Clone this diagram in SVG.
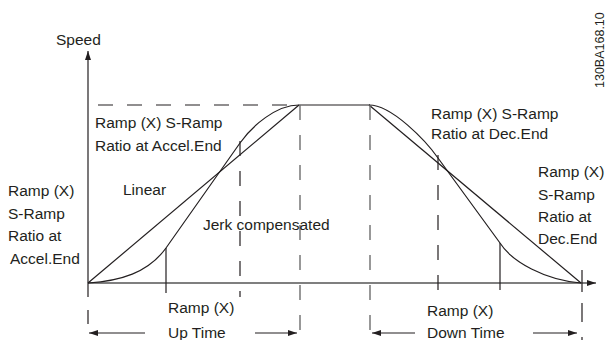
<svg xmlns="http://www.w3.org/2000/svg" width="606" height="340" viewBox="0 0 606 340">
<defs>
<style>
text{font-family:"Liberation Sans",Arial,sans-serif;font-size:15.5px;fill:#231f20}
.ln{stroke:#231f20;stroke-width:1.2;fill:none}
.ax{stroke:#555;stroke-width:1.4;fill:none}
.dk{stroke:#231f20;stroke-width:1.2;fill:none;stroke-dasharray:15 15}
.dg{stroke:#6d6d6d;stroke-width:1.4;fill:none;stroke-dasharray:15 15}
.ah{fill:#231f20}
</style>
<marker id="arr" markerWidth="9" markerHeight="6" refX="9" refY="3" orient="auto" markerUnits="userSpaceOnUse">
<path d="M0,0 L9,3 L0,6 Z" class="ah"/>
</marker>
</defs>
<rect width="606" height="340" fill="#fff"/>
<g id="connectors">
<line class="ln" x1="88" y1="283" x2="88" y2="51" marker-end="url(#arr)"/>
<line class="ax" x1="88" y1="283" x2="596" y2="283" marker-end="url(#arr)"/>
<line class="dk" x1="98" y1="105" x2="299" y2="105" style="stroke-dasharray:15 14"/>
<line class="ln" x1="299" y1="105" x2="370" y2="105"/>
<line class="ln" x1="88" y1="283" x2="299" y2="105"/>
<path class="ln" d="M88,283 C120,281 148,273 166,248 L240,143 C252,126 276,105 299,105"/>
<line class="ln" x1="369" y1="105" x2="581" y2="283"/>
<path class="ln" d="M369,105 C392,105 426,141 438,158 L500,243 C512,262 545,280 581,283"/>
<line class="dg" x1="300" y1="105" x2="300" y2="334"/>
<line class="dg" x1="370" y1="105" x2="370" y2="334"/>
<line class="dk" x1="240" y1="141" x2="240" y2="297"/>
<line class="dk" x1="438" y1="155" x2="438" y2="294"/>
<line class="ln" x1="166" y1="248" x2="166" y2="293"/>
<line class="ln" x1="500" y1="243" x2="500" y2="290"/>
<line class="ln" x1="582" y1="270" x2="582" y2="340" style="stroke-dasharray:22 11 19 15"/>
<line class="ln" x1="88" y1="283" x2="88" y2="333" style="stroke-dasharray:14 13"/>
<line class="ln" x1="145" y1="333" x2="89" y2="333" marker-end="url(#arr)"/>
<line class="ln" x1="255" y1="333" x2="297" y2="333" marker-end="url(#arr)"/>
<line class="ln" x1="415" y1="333" x2="372" y2="333" marker-end="url(#arr)"/>
<line class="ln" x1="533" y1="333" x2="577" y2="333" marker-end="url(#arr)"/>
</g>
<g id="axis-label"><text x="56" y="45">Speed</text></g>
<g id="accel-end-top"><text x="95" y="128">Ramp (X) S-Ramp</text><text x="95" y="151">Ratio at Accel.End</text></g>
<g id="linear"><text x="123" y="195">Linear</text></g>
<g id="accel-end-left"><text x="8" y="196">Ramp (X)</text><text x="8" y="219">S-Ramp</text><text x="8" y="241">Ratio at</text><text x="10" y="264">Accel.End</text></g>
<g id="jerk"><text x="203" y="230">Jerk compensated</text></g>
<g id="dec-end-top"><text x="431" y="119">Ramp (X) S-Ramp</text><text x="431" y="139">Ratio at Dec.End</text></g>
<g id="dec-end-right"><text x="538" y="177">Ramp (X)</text><text x="538" y="200">S-Ramp</text><text x="538" y="222">Ratio at</text><text x="538" y="244">Dec.End</text></g>
<g id="up-time"><text x="168" y="313">Ramp (X)</text><text x="168" y="338">Up Time</text></g>
<g id="down-time"><text x="427" y="316">Ramp (X)</text><text x="427" y="338">Down Time</text></g>
<g id="code"><text x="604" y="88" transform="rotate(-90 604 88)" style="font-size:12.5px">130BA168.10</text></g>
</svg>
